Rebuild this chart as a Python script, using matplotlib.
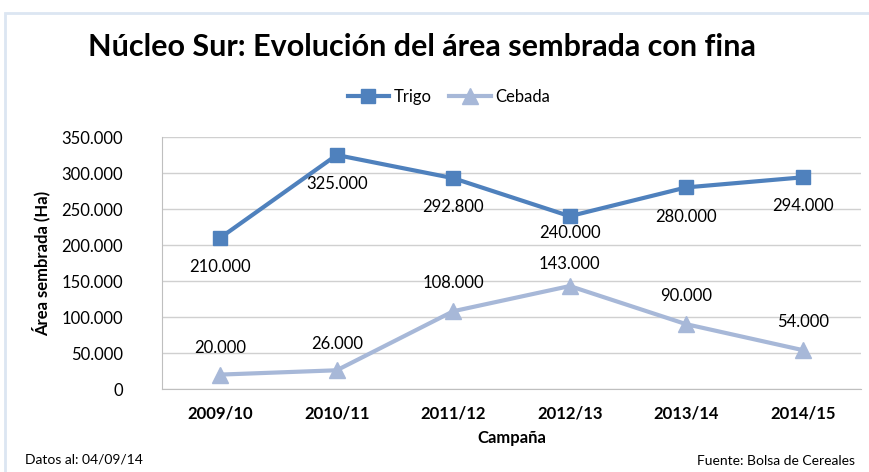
import matplotlib.pyplot as plt
from matplotlib.patches import Rectangle
from matplotlib.ticker import FuncFormatter

plt.rcParams['font.family'] = ['Lato', 'DejaVu Sans']

campanas = ['2009/10', '2010/11', '2011/12', '2012/13', '2013/14', '2014/15']
trigo = [210000, 325000, 292800, 240000, 280000, 294000]
cebada = [20000, 26000, 108000, 143000, 90000, 54000]

# desplazamiento de etiquetas (puntos)
off_trigo = [-21, -21, -21, -12, -21, -21]
off_cebada = [19, 19, 20, 16, 20, 20]

azul = '#4F81BD'
celeste = '#A7B8D8'


def miles(v, pos=None):
    return f'{int(v):,}'.replace(',', '.')


fig = plt.figure(figsize=(8.7, 4.72), dpi=100)
ax = fig.add_axes([162 / 870, 1 - 389 / 472, 699 / 870, 252 / 472])

x = range(len(campanas))
ax.plot(x, trigo, color=azul, lw=3, marker='s', ms=10, label='Trigo')
ax.plot(x, cebada, color=celeste, lw=3, marker='^', ms=11, label='Cebada')

for i in x:
    ax.annotate(miles(trigo[i]), (i, trigo[i]), xytext=(0, off_trigo[i]),
                textcoords='offset points', ha='center', va='center', fontsize=12)
    ax.annotate(miles(cebada[i]), (i, cebada[i]), xytext=(0, off_cebada[i]),
                textcoords='offset points', ha='center', va='center', fontsize=12)

ax.set_xlim(-0.5, len(campanas) - 0.5)
ax.set_ylim(0, 350000)
ax.set_yticks(range(0, 350001, 50000))
ax.yaxis.set_major_formatter(FuncFormatter(miles))
ax.set_xticks(list(x))
ax.set_xticklabels(campanas, fontweight='bold', fontsize=12)
ax.tick_params(axis='y', labelsize=12, length=0, pad=28)
ax.tick_params(axis='x', length=0, pad=12)
ax.grid(axis='y', color='#D0D0D0', lw=1)
ax.set_axisbelow(True)
for s in ['top', 'right']:
    ax.spines[s].set_visible(False)
ax.spines['left'].set_color('#BFBFBF')
ax.spines['bottom'].set_color('#BFBFBF')

ax.set_xlabel('Campaña', fontweight='bold', fontsize=12, labelpad=6)
ax.set_ylabel('Área sembrada (Ha)', fontweight='bold', fontsize=12, labelpad=8)

fig.text(422 / 870, 1 - 47 / 472, 'Núcleo Sur: Evolución del área sembrada con fina',
         ha='center', va='center', fontsize=22, fontweight='bold')
fig.legend(loc='center', bbox_to_anchor=(449 / 870, 1 - 97 / 472), ncol=2,
           frameon=False, fontsize=12, handlelength=2.5, columnspacing=1.0,
           handletextpad=0.3)
fig.text(25 / 870, 1 - 459 / 472, 'Datos al: 04/09/14', fontsize=10, va='center')
fig.text(855 / 870, 1 - 461 / 472, 'Fuente: Bolsa de Cereales', fontsize=10,
         va='center', ha='right')

fig.patches.append(Rectangle((5 / 870, -0.1), 1.1, 1 - 13 / 472 + 0.1,
                             transform=fig.transFigure, fill=False,
                             edgecolor='#DCE6F2', lw=2))

fig.savefig('out.png', dpi=100)
